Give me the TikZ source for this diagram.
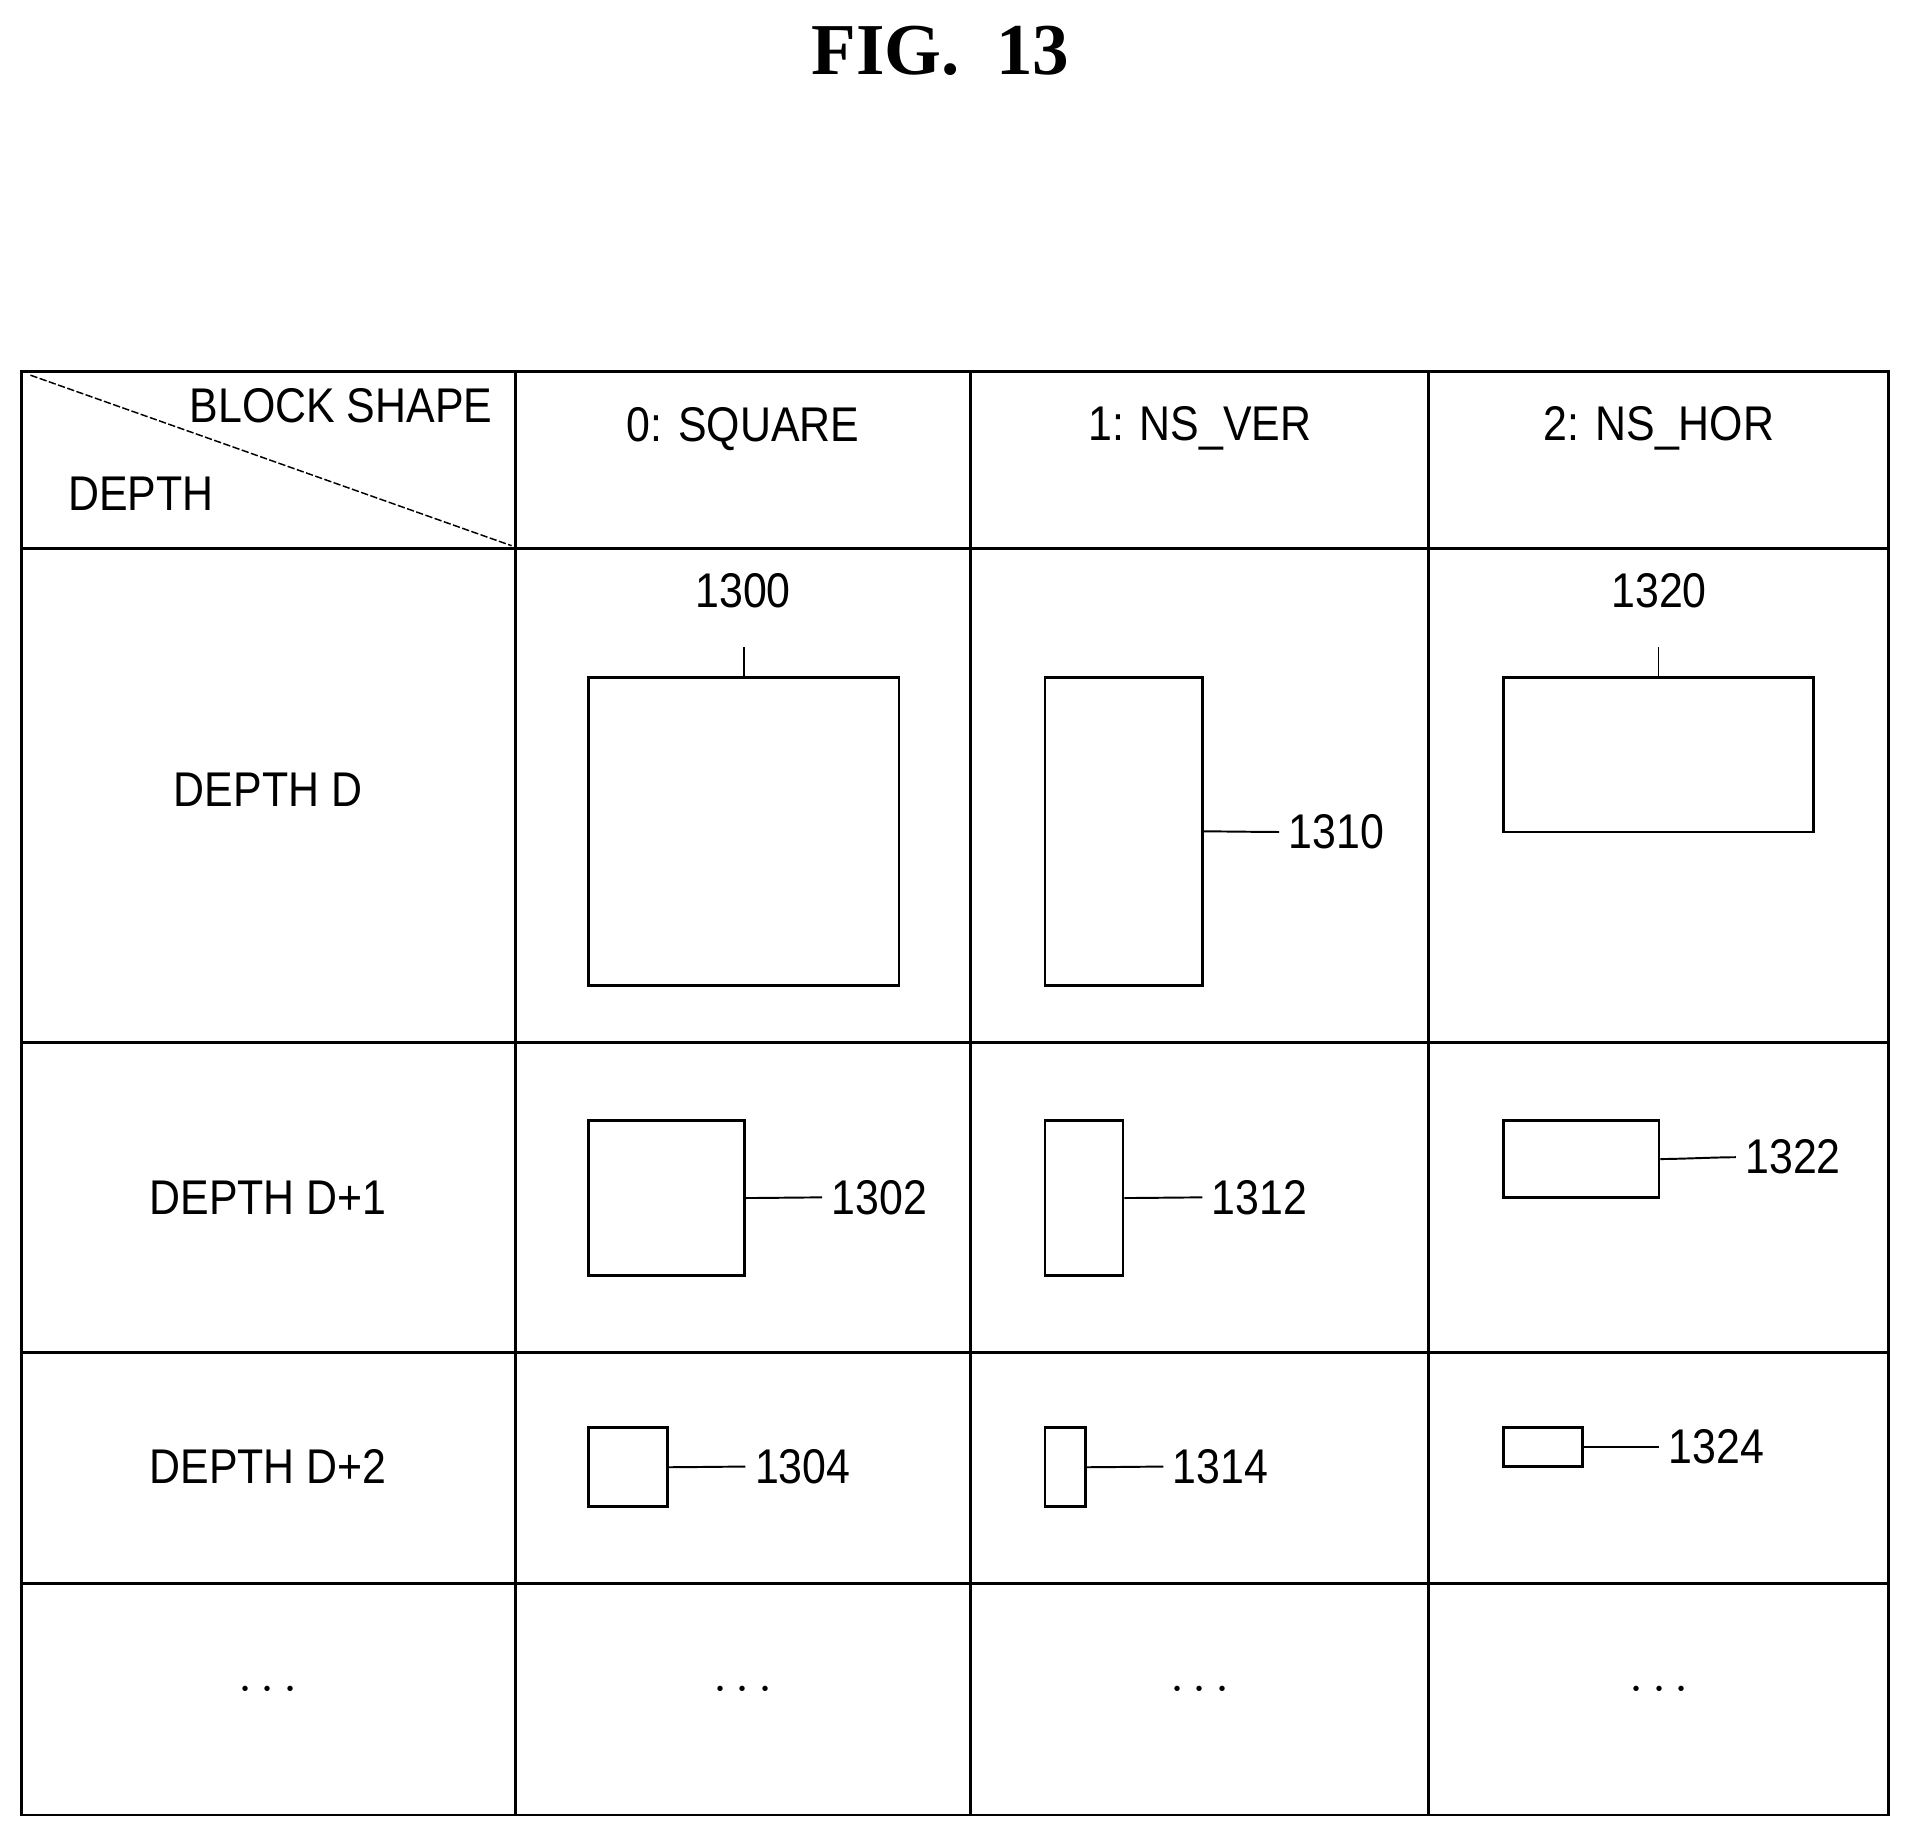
\documentclass[tikz,border=0pt]{standalone}
\usepackage{fontspec}
\setmainfont{Liberation Sans}[FakeStretch=0.88]
\newfontfamily\titlefont{Liberation Serif}
\begin{document}
\begin{tikzpicture}[x=0.5pt,y=-0.5pt,line width=1.2pt,
  lbl/.style={font=\fontsize{20}{24}\selectfont},
  blk/.style={draw,line width=1.1pt},
  lead/.style={line width=0.8pt}]
\useasboundingbox (0,0) rectangle (1568,1509);
\node[font=\titlefont\bfseries\fontsize{30}{34}\selectfont] (title) at (772,42) {FIG.\ \ 13};
% grid
\draw (18,305) rectangle (1550,1490);
\foreach \x in {423,797,1173} \draw (\x,305) -- (\x,1490);
\foreach \y in {450,856,1110,1300} \draw (18,\y) -- (1550,\y);
\draw[line width=0.6pt,dashed,dash pattern=on 3pt off 1pt] (25,308) -- (420,448);
\node[lbl,anchor=east] (bs) at (412,333) {BLOCK SHAPE};
\node[lbl,anchor=west] (dp) at (48,405) {DEPTH};
\node[lbl] (h0) at (610,352) {0: SQUARE};
\node[lbl] (h1) at (985,352) {1: NS\_VER};
\node[lbl] (h2) at (1362,352) {2: NS\_HOR};
\node[lbl] (r0) at (220,648) {DEPTH D};
\node[lbl] (r1) at (220,983) {DEPTH D+1};
\node[lbl] (r2) at (220,1204) {DEPTH D+2};
\foreach \x/\n in {220/a,610/b,985/c,1362/d} \node[lbl] (dots\n) at (\x,1388) {$\cdots$};
% blocks
\node[blk,minimum width=127.5pt,minimum height=126.5pt,inner sep=0pt] (b1300) at (610.5,682.5) {};
\node[blk,minimum width=64.5pt,minimum height=126.5pt,inner sep=0pt] (b1310) at (922.5,682.5) {};
\node[blk,minimum width=127.5pt,minimum height=63.5pt,inner sep=0pt] (b1320) at (1361.5,619.5) {};
\node[blk,minimum width=64pt,minimum height=63.5pt,inner sep=0pt] (b1302) at (547,983.5) {};
\node[blk,minimum width=32pt,minimum height=63.5pt,inner sep=0pt] (b1312) at (890,983.5) {};
\node[blk,minimum width=64pt,minimum height=31.5pt,inner sep=0pt] (b1322) at (1298,951.5) {};
\node[blk,minimum width=32.5pt,minimum height=32.5pt,inner sep=0pt] (b1304) at (515.5,1204.5) {};
\node[blk,minimum width=16.5pt,minimum height=32.5pt,inner sep=0pt] (b1314) at (874.5,1204.5) {};
\node[blk,minimum width=32.5pt,minimum height=16pt,inner sep=0pt] (b1324) at (1266.5,1188) {};
% labels
\node[lbl] (l1300) at (610,485) {1300};
\node[lbl] (l1320) at (1362,485) {1320};
\node[lbl,anchor=west] (l1310) at (1050,683) {1310};
\node[lbl,anchor=west] (l1302) at (675,983) {1302};
\node[lbl,anchor=west] (l1312) at (987,983) {1312};
\node[lbl,anchor=west] (l1322) at (1425,950) {1322};
\node[lbl,anchor=west] (l1304) at (612,1204) {1304};
\node[lbl,anchor=west] (l1314) at (955,1204) {1314};
\node[lbl,anchor=west] (l1324) at (1362,1188) {1324};
% leaders
\draw[lead] (b1300.north) .. controls +(0,-10) and +(0,10) .. ([yshift=12pt]b1300.north);
\draw[lead] (b1320.north) .. controls +(0,-10) and +(0,10) .. ([yshift=12pt]b1320.north);
\foreach \b/\l in {b1310/l1310,b1302/l1302,b1312/l1312,b1322/l1322,b1304/l1304,b1314/l1314,b1324/l1324}
  \draw[lead] (\b.east) .. controls +(15,0) and +(-15,0) .. (\l.west);
\end{tikzpicture}
\end{document}
